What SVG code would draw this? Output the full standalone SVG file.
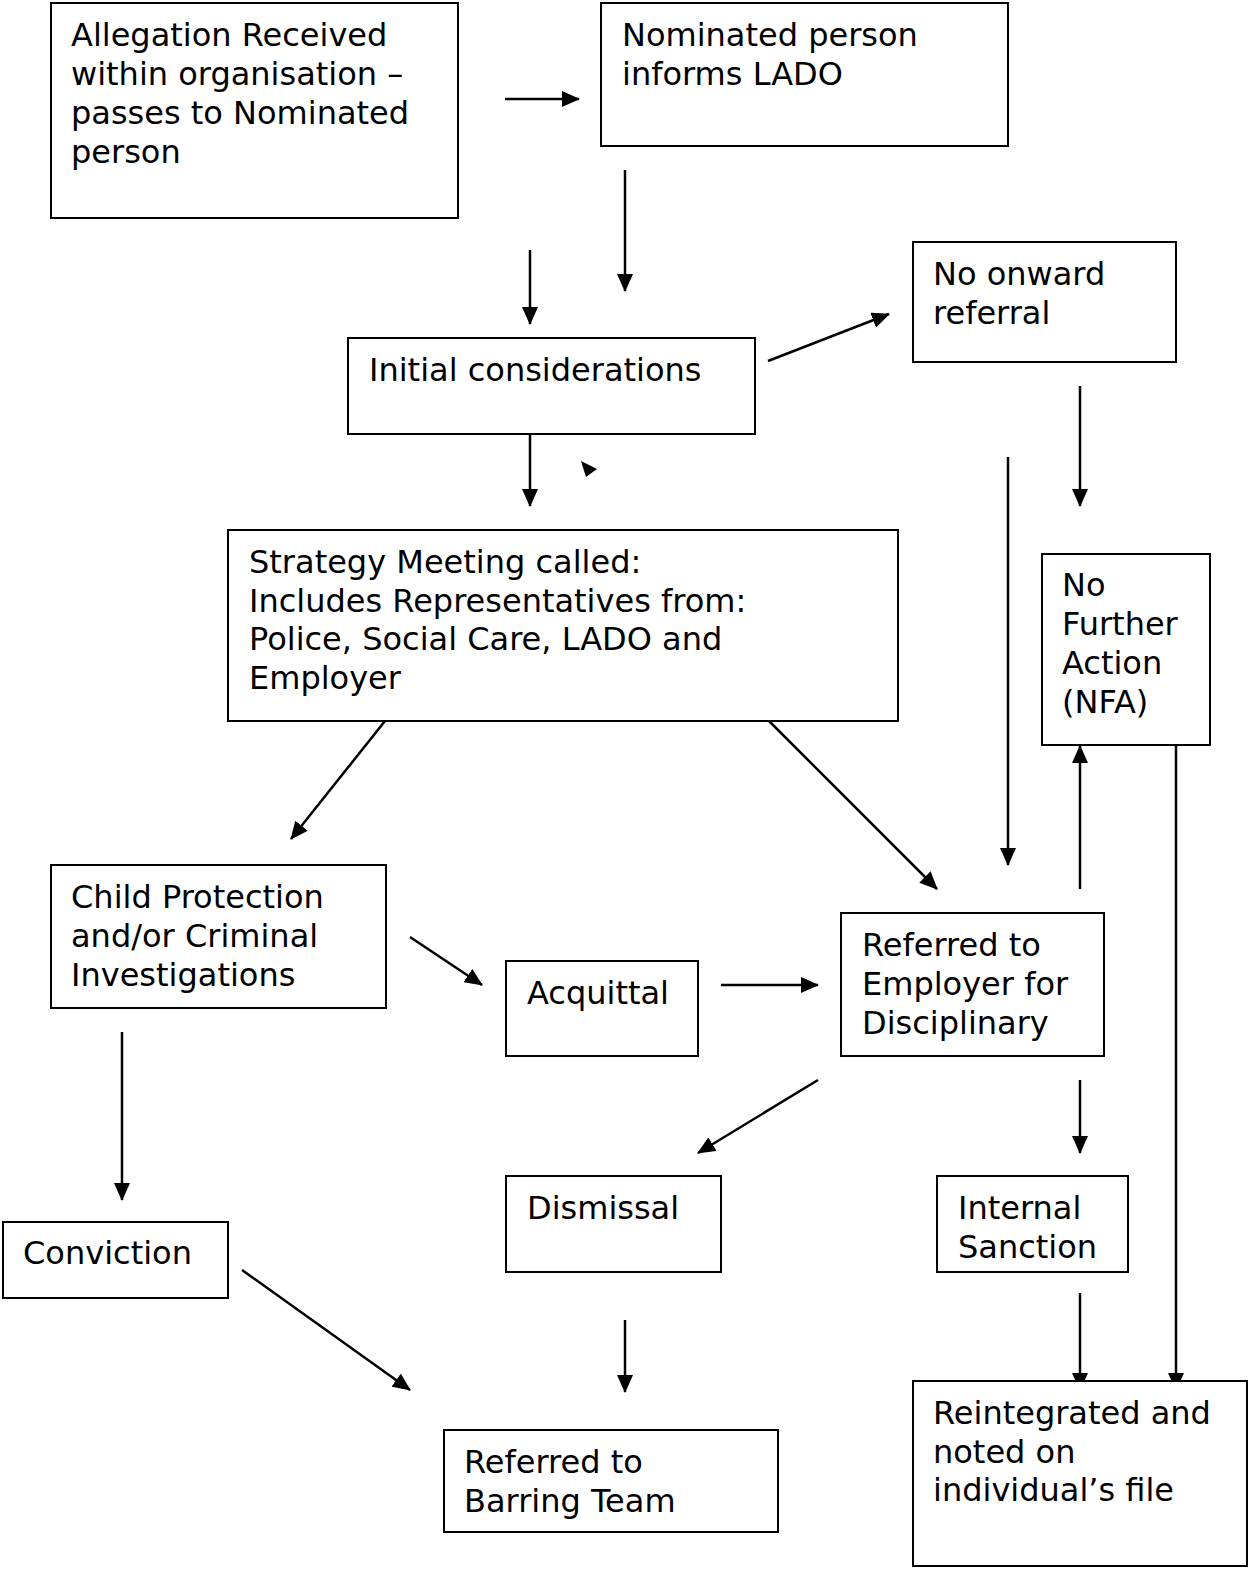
<svg xmlns="http://www.w3.org/2000/svg" width="1251" height="1572" viewBox="0 0 1251 1572">
<style>
.box{fill:#fff;stroke:#000;stroke-width:2}
.t{font-family:"DejaVu Sans","Liberation Sans",sans-serif;font-size:32px;fill:#000}
.c{stroke:#000;stroke-width:2.5;fill:none;marker-end:url(#ah)}
</style>
<defs>
<marker id="ah" markerUnits="userSpaceOnUse" markerWidth="18" markerHeight="16" viewBox="0 0 18 16" refX="17" refY="8" orient="auto">
<path d="M0,0 L18,8 L0,16 Z" fill="#000"/>
</marker>
</defs>
<rect width="1251" height="1572" fill="#fff"/>
<g id="connectors">
<line class="c" x1="505" y1="99" x2="579" y2="99"/>
<line class="c" x1="625" y1="170" x2="625" y2="291"/>
<line class="c" x1="530" y1="250" x2="530" y2="324"/>
<line class="c" x1="768" y1="361" x2="889" y2="314"/>
<line class="c" x1="1080" y1="386" x2="1080" y2="506"/>
<line class="c" x1="530" y1="434" x2="530" y2="506"/>
<path d="M581,461 L597,469 L586,477 Z" fill="#000"/>
<line class="c" x1="1008" y1="457" x2="1008" y2="865"/>
<line class="c" x1="385" y1="721" x2="291" y2="839"/>
<line class="c" x1="769" y1="721" x2="937" y2="889"/>
<line class="c" x1="1080" y1="889" x2="1080" y2="746"/>
<line class="c" x1="1176" y1="741" x2="1176" y2="1390"/>
<line class="c" x1="410" y1="937" x2="482" y2="985"/>
<line class="c" x1="721" y1="985" x2="818" y2="985"/>
<line class="c" x1="122" y1="1032" x2="122" y2="1200"/>
<line class="c" x1="818" y1="1080" x2="698" y2="1153"/>
<line class="c" x1="1080" y1="1080" x2="1080" y2="1153"/>
<line class="c" x1="242" y1="1270" x2="410" y2="1390"/>
<line class="c" x1="625" y1="1320" x2="625" y2="1392"/>
<line class="c" x1="1080" y1="1293" x2="1080" y2="1390"/>
</g>
<g id="n1"><rect class="box" x="51" y="3" width="407" height="215"/>
<text class="t" x="71" y="46">Allegation Received</text>
<text class="t" x="71" y="85">within organisation –</text>
<text class="t" x="71" y="124">passes to Nominated</text>
<text class="t" x="71" y="163">person</text></g>
<g id="n2"><rect class="box" x="601" y="3" width="407" height="143"/>
<text class="t" x="622" y="46">Nominated person</text>
<text class="t" x="622" y="85">informs LADO</text></g>
<g id="n3"><rect class="box" x="348" y="338" width="407" height="96"/>
<text class="t" x="369" y="381">Initial considerations</text></g>
<g id="n4"><rect class="box" x="913" y="242" width="263" height="120"/>
<text class="t" x="933" y="285">No onward</text>
<text class="t" x="933" y="324">referral</text></g>
<g id="n5"><rect class="box" x="228" y="530" width="670" height="191"/>
<text class="t" x="249" y="573">Strategy Meeting called:</text>
<text class="t" x="249" y="612">Includes Representatives from:</text>
<text class="t" x="249" y="650">Police, Social Care, LADO and</text>
<text class="t" x="249" y="689">Employer</text></g>
<g id="n6"><rect class="box" x="1042" y="554" width="168" height="191"/>
<text class="t" x="1062" y="596">No</text>
<text class="t" x="1062" y="635">Further</text>
<text class="t" x="1062" y="674">Action</text>
<text class="t" x="1062" y="713">(NFA)</text></g>
<g id="n7"><rect class="box" x="51" y="865" width="335" height="143"/>
<text class="t" x="71" y="908">Child Protection</text>
<text class="t" x="71" y="947">and/or Criminal</text>
<text class="t" x="71" y="986">Investigations</text></g>
<g id="n8"><rect class="box" x="506" y="961" width="192" height="95"/>
<text class="t" x="527" y="1004">Acquittal</text></g>
<g id="n9"><rect class="box" x="841" y="913" width="263" height="143"/>
<text class="t" x="862" y="956">Referred to</text>
<text class="t" x="862" y="995">Employer for</text>
<text class="t" x="862" y="1034">Disciplinary</text></g>
<g id="n10"><rect class="box" x="3" y="1222" width="225" height="76"/>
<text class="t" x="23" y="1264">Conviction</text></g>
<g id="n11"><rect class="box" x="506" y="1176" width="215" height="96"/>
<text class="t" x="527" y="1219">Dismissal</text></g>
<g id="n12"><rect class="box" x="937" y="1176" width="191" height="96"/>
<text class="t" x="958" y="1219">Internal</text>
<text class="t" x="958" y="1258">Sanction</text></g>
<g id="n13"><rect class="box" x="444" y="1430" width="334" height="102"/>
<text class="t" x="464" y="1473">Referred to</text>
<text class="t" x="464" y="1512">Barring Team</text></g>
<g id="n14"><rect class="box" x="913" y="1381" width="334" height="185"/>
<text class="t" x="933" y="1424">Reintegrated and</text>
<text class="t" x="933" y="1463">noted on</text>
<text class="t" x="933" y="1501">individual’s file</text></g>
</svg>
